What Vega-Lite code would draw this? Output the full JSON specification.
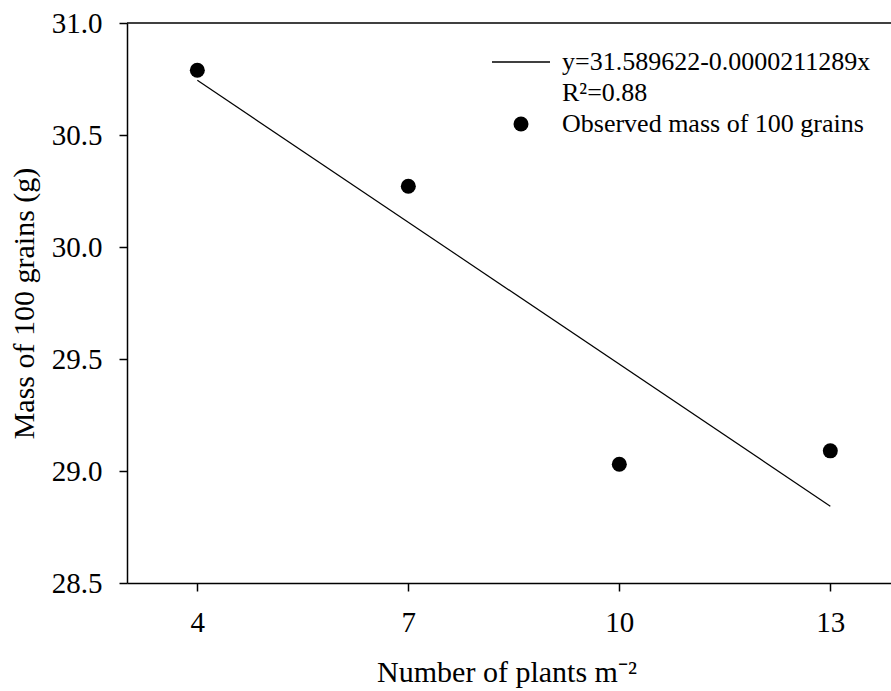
{
  "$schema": "https://vega.github.io/schema/vega-lite/v6.json",
  "width": 764,
  "height": 560,
  "autosize": {"type": "none"},
  "padding": {"left": 127, "top": 23, "right": 0, "bottom": 108},
  "background": "white",
  "config": {
    "font": "Liberation Serif",
    "view": {"stroke": null},
    "style": {
      "guide-label": {"font": "Liberation Serif"},
      "guide-title": {"font": "Liberation Serif"}
    },
    "axis": {
      "domainColor": "black",
      "domainWidth": 1.5,
      "tickColor": "black",
      "tickWidth": 1.5,
      "tickSize": 8,
      "labelColor": "black",
      "titleColor": "black",
      "labelFont": "Liberation Serif",
      "titleFont": "Liberation Serif",
      "labelFontSize": 29,
      "titleFontSize": 30,
      "titleFontWeight": "normal",
      "grid": false,
      "labelFlush": false,
      "labelOverlap": false
    }
  },
  "layer": [
    {
      "data": {"values": [
        {"plants": 4, "mass": 30.789, "series": "Observed mass of 100 grains"},
        {"plants": 7, "mass": 30.271, "series": "Observed mass of 100 grains"},
        {"plants": 10, "mass": 29.03, "series": "Observed mass of 100 grains"},
        {"plants": 13, "mass": 29.09, "series": "Observed mass of 100 grains"}
      ]},
      "mark": {"type": "point", "filled": true, "color": "black", "opacity": 1},
      "encoding": {
        "x": {
          "field": "plants",
          "type": "quantitative",
          "scale": {"domain": [3, 13.863], "nice": false, "zero": false},
          "axis": {
            "values": [4, 7, 10, 13],
            "format": "d",
            "labelFont": "Liberation Serif",
            "labelFontSize": 29,
            "labelPadding": 17,
            "title": "Number of plants m⁻²",
            "titleX": 379.5,
            "titleY": 98,
            "titleBaseline": "alphabetic",
            "titleAlign": "center"
          }
        },
        "y": {
          "field": "mass",
          "type": "quantitative",
          "scale": {"domain": [28.5, 31], "nice": false, "zero": false},
          "axis": {
            "values": [28.5, 29, 29.5, 30, 30.5, 31],
            "format": ".1f",
            "labelFont": "Liberation Serif",
            "labelFontSize": 29,
            "labelPadding": 17,
            "title": "Mass of 100 grains (g)",
            "titleX": -94,
            "titleBaseline": "alphabetic"
          }
        },
        "shape": {
          "field": "series",
          "type": "nominal",
          "scale": {
            "domain": ["y=31.589622-0.0000211289x", "R²=0.88", "Observed mass of 100 grains"],
            "range": ["M-1,-0.022L1,-0.022L1,0.022L-1,0.022Z", "M-1,-0.022L1,-0.022L1,0.022L-1,0.022Z", "circle"]
          },
          "legend": {
            "title": null,
            "orient": "none",
            "legendX": 365,
            "legendY": 26,
            "clipHeight": 26,
            "rowPadding": 5,
            "labelOffset": 12,
            "labelFontSize": 26,
            "labelFont": "Liberation Serif",
            "labelColor": "black",
            "labelLimit": 0,
            "symbolFillColor": "black",
            "symbolStrokeWidth": 0,
            "symbolOffset": 0,
            "padding": 0
          }
        },
        "size": {
          "field": "series",
          "type": "nominal",
          "scale": {
            "type": "ordinal",
            "domain": ["y=31.589622-0.0000211289x", "R²=0.88", "Observed mass of 100 grains"],
            "range": [3364, 0, 225]
          },
          "legend": {
            "title": null,
            "orient": "none",
            "legendX": 365,
            "legendY": 26,
            "clipHeight": 26,
            "rowPadding": 5,
            "labelOffset": 12,
            "labelFontSize": 26,
            "labelFont": "Liberation Serif",
            "labelColor": "black",
            "labelLimit": 0,
            "symbolFillColor": "black",
            "symbolStrokeWidth": 0,
            "symbolOffset": 0,
            "padding": 0
          }
        }
      }
    },
    {
      "data": {"values": [{"plants": 4, "mass": 30.744}, {"plants": 13, "mass": 28.843}]},
      "mark": {"type": "line", "color": "black", "strokeWidth": 1.2},
      "encoding": {
        "x": {"field": "plants", "type": "quantitative"},
        "y": {"field": "mass", "type": "quantitative"}
      }
    },
    {
      "data": {"values": [{"top": 31}]},
      "mark": {"type": "rule", "color": "black", "strokeWidth": 1.5},
      "encoding": {
        "y": {"field": "top", "type": "quantitative"}
      }
    }
  ]
}
